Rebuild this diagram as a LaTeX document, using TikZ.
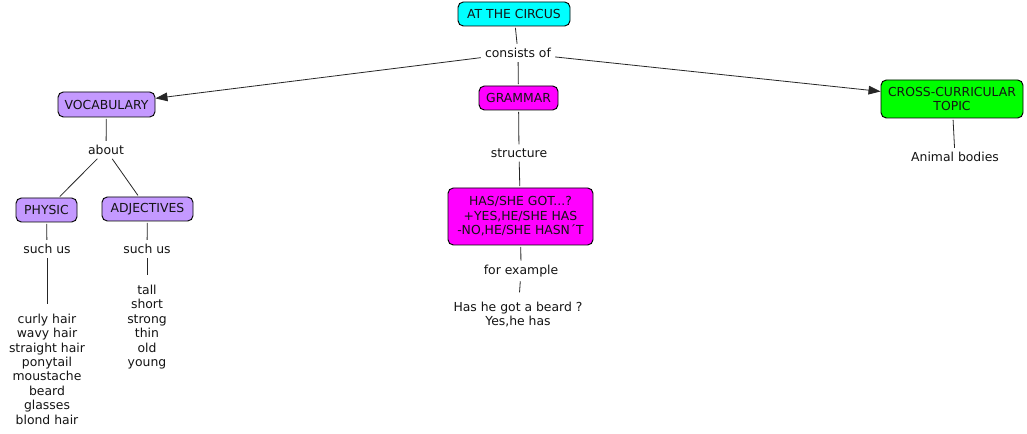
\documentclass[tikz,border=0pt]{standalone}
\usepackage{fontspec}
\setmainfont{DejaVu Sans}
\usetikzlibrary{arrows.meta}
\definecolor{cyanbox}{RGB}{0,255,255}
\definecolor{violetbox}{RGB}{196,153,255}
\definecolor{magentabox}{RGB}{255,0,255}
\definecolor{greenbox}{RGB}{0,255,0}
\definecolor{txt}{RGB}{20,20,20}
\begin{document}
\begin{tikzpicture}[x=0.75pt,y=-0.75pt,
  every node/.style={font=\fontsize{9.3}{10.8}\selectfont, align=center, text=txt},
  concept/.style={draw=black, line width=0.7pt, rounded corners=4pt, inner xsep=3pt, inner ysep=2pt, minimum height=18pt},
  lbl/.style={inner sep=2pt},
  lst/.style={inner xsep=2pt, inner ysep=6pt},
  link/.style={draw=black!85, line width=0.6pt, shorten <=1pt, shorten >=1pt},
  arr/.style={link, shorten >=0pt, -{Triangle[length=9pt,width=6.5pt]}}]
\path[use as bounding box, fill=white] (0,0) rectangle (1027,434);

\node[concept, fill=cyanbox, minimum width=84pt] (circus) at (514,14) {AT THE CIRCUS};
\node[lbl] (consists) at (518,53) {consists of};
\node[concept, fill=violetbox, minimum width=72.75pt, minimum height=18.75pt] (vocab) at (106.5,104.5) {VOCABULARY};
\node[concept, fill=magentabox, minimum width=59.25pt] (grammar) at (518.5,98) {GRAMMAR};
\node[concept, fill=greenbox, minimum width=106.5pt, minimum height=28.5pt] (cross) at (952,99) {CROSS-CURRICULAR\\TOPIC};

\node[lbl] (about) at (106,150) {about};
\node[concept, fill=violetbox, minimum width=45.75pt] (physic) at (46.5,210) {PHYSIC};
\node[concept, fill=violetbox, minimum width=68.25pt] (adj) at (147.5,209) {ADJECTIVES};
\node[lbl] (such1) at (47,249) {such us};
\node[lbl] (such2) at (147,249) {such us};
\node[lst] (list1) at (47,369) {curly hair\\wavy hair\\straight hair\\ponytail\\moustache\\beard\\glasses\\blond hair};
\node[lst] (list2) at (147,327) {tall\\short\\strong\\thin\\old\\young};

\node[lbl] (structure) at (519,153) {structure};
\node[concept, fill=magentabox, minimum width=108.75pt, minimum height=42.75pt] (has) at (520.5,216.5) {HAS/SHE GOT...?\\+YES,HE/SHE HAS\\-NO,HE/SHE HASN\char"00B4 T};
\node[lbl] (forex) at (521,271) {for example};
\node[lst] (beard) at (518,314.5) {Has he got a beard ?\\Yes,he has};

\node[lbl] (animal) at (955,157) {Animal bodies};

\draw[link] (circus) -- (consists);
\draw[arr] (consists) -- (vocab);
\draw[link] (consists) -- (grammar);
\draw[arr] (consists) -- (cross);
\draw[link] (vocab) -- (about);
\draw[link] (about) -- (physic);
\draw[link] (about) -- (adj);
\draw[link] (physic) -- (such1);
\draw[link] (such1) -- (list1);
\draw[link] (adj) -- (such2);
\draw[link] (such2) -- (list2);
\draw[link] (grammar) -- (structure);
\draw[link] (structure) -- (has);
\draw[link] (has) -- (forex);
\draw[link] (forex) -- (beard);
\draw[link] (cross) -- (animal);
\end{tikzpicture}
\end{document}
